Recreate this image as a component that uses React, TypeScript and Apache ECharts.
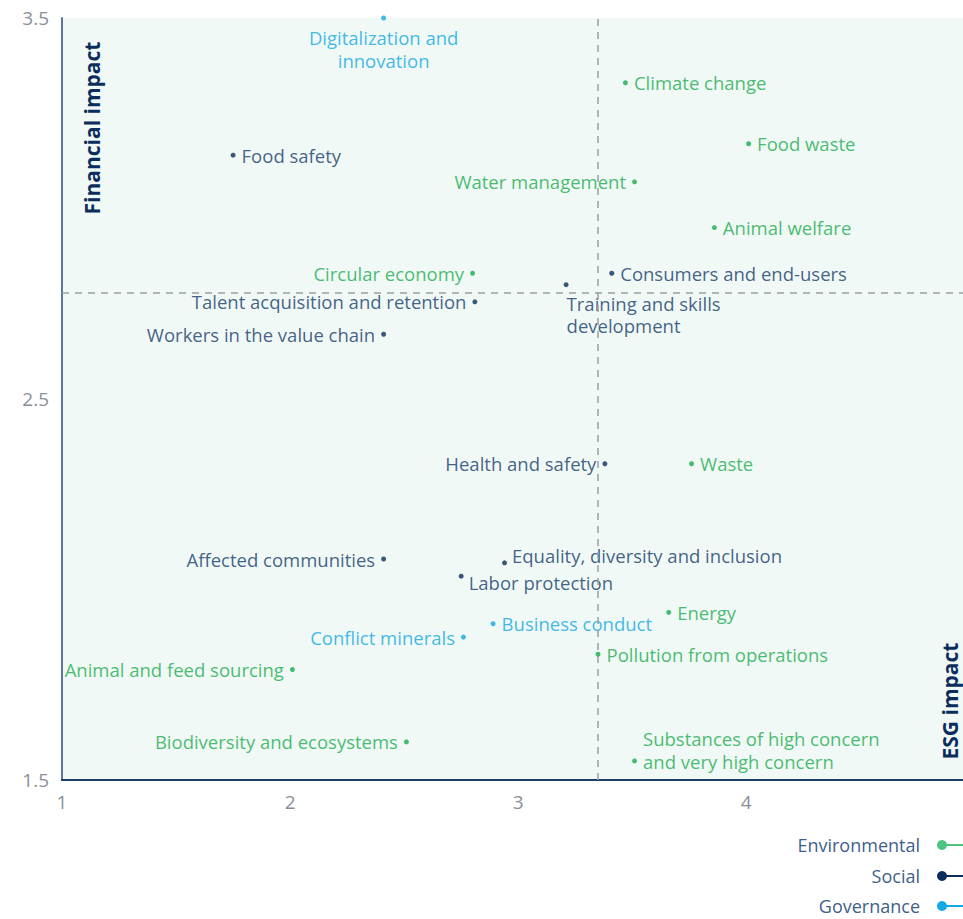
import React, { useEffect, useRef } from "react";
import * as echarts from "echarts";

const categories = ["Environmental", "Social", "Governance"];

const envNames = [
  "Climate change",
  "Food waste",
  "Water management",
  "Animal welfare",
  "Circular economy",
  "Waste",
  "Energy",
  "Pollution from operations",
  "Animal and feed sourcing",
  "Biodiversity and ecosystems",
  "Substances of high concern\nand very high concern",
];
const envX = [3.47, 4.01, 3.51, 3.86, 2.8, 3.76, 3.66, 3.35, 2.01, 2.51, 3.51];
const envY = [3.33, 3.17, 3.07, 2.95, 2.83, 2.33, 1.94, 1.83, 1.79, 1.6, 1.55];

const socNames = [
  "Food safety",
  "Consumers and end-users",
  "Training and skills\ndevelopment",
  "Talent acquisition and retention",
  "Workers in the value chain",
  "Health and safety",
  "Affected communities",
  "Equality, diversity and inclusion",
  "Labor protection",
];
const socX = [1.75, 3.41, 3.21, 2.81, 2.41, 3.38, 2.41, 2.94, 2.75];
const socY = [3.14, 2.83, 2.8, 2.755, 2.67, 2.33, 2.08, 2.07, 2.035];

const govNames = ["Digitalization and\ninnovation", "Business conduct", "Conflict minerals"];
const govX = [2.41, 2.89, 2.76];
const govY = [3.5, 1.91, 1.875];

const xThreshold = 3.35;
const yThreshold = 2.78;

const xTicks = [1, 2, 3, 4];
const yTickLabels = ["1.5", "2.5", "3.5"];

const GREEN = "#1aab4f";
const NAVY = "#133a6b";
const NAVY_DOT = "#0b2d5c";
const CYAN = "#10a8e3";
const FONT = "'Open Sans', 'Noto Sans', sans-serif";
const LABEL_SIZE = 18.5;
const LINE_H = 22.5;

const leftLabels = new Set([
  "Water management",
  "Circular economy",
  "Animal and feed sourcing",
  "Biodiversity and ecosystems",
  "Talent acquisition and retention",
  "Workers in the value chain",
  "Health and safety",
  "Affected communities",
  "Conflict minerals",
]);

function labelFor(name: string): any {
  if (name.startsWith("Digitalization")) {
    return { position: "bottom", distance: 6, align: "center", lineHeight: LINE_H };
  }
  if (name.startsWith("Training")) {
    return { position: [3, 10], align: "left", verticalAlign: "top", lineHeight: LINE_H };
  }
  if (name.startsWith("Substances")) {
    return { position: "right", distance: 6, offset: [0, -11], lineHeight: LINE_H };
  }
  if (name.startsWith("Equality")) {
    return { position: "right", distance: 5, offset: [0, -7] };
  }
  if (name.startsWith("Labor")) {
    return { position: "right", distance: 5, offset: [0, 6] };
  }
  if (leftLabels.has(name)) return { position: "left", distance: 6 };
  return { position: "right", distance: 6 };
}

function buildData(names: string[], xs: number[], ys: number[]) {
  return names.map((n, i) => ({ name: n, value: [xs[i], ys[i]], label: labelFor(n) }));
}

export default function App() {
  const ref = useRef<HTMLDivElement>(null);
  useEffect(() => {
    if (!ref.current) return;
    const chart = echarts.init(ref.current, null, { renderer: "svg" });
    const seriesDefs = [
      { name: categories[0], color: GREEN, text: GREEN, data: buildData(envNames, envX, envY) },
      { name: categories[1], color: NAVY_DOT, text: NAVY, data: buildData(socNames, socX, socY) },
      { name: categories[2], color: CYAN, text: CYAN, data: buildData(govNames, govX, govY) },
    ];
    const legendColors = ["#4cc47f", "#0b2d5c", "#14a9e6"];
    const legendY = [845, 876, 906];
    const graphics: any[] = [];
    categories.forEach((c, i) => {
      graphics.push({
        type: "text",
        x: 920,
        y: legendY[i],
        style: { text: c, fill: "#3f5f8a", font: `18px ${FONT}`, align: "right", verticalAlign: "middle" },
      });
      graphics.push({
        type: "line",
        shape: { x1: 942, y1: legendY[i], x2: 963, y2: legendY[i] },
        style: { stroke: legendColors[i], lineWidth: 2 },
      });
      graphics.push({
        type: "circle",
        shape: { cx: 942, cy: legendY[i], r: 5 },
        style: { fill: legendColors[i] },
      });
    });
    graphics.push({
      type: "text",
      x: 92,
      y: 128,
      rotation: Math.PI / 2,
      style: { text: "Financial impact", fill: "#0b2d5c", font: `bold 21px ${FONT}`, align: "center", verticalAlign: "middle" },
    });
    graphics.push({
      type: "text",
      x: 950,
      y: 701,
      rotation: Math.PI / 2,
      style: { text: "ESG impact", fill: "#0b2d5c", font: `bold 21px ${FONT}`, align: "center", verticalAlign: "middle" },
    });

    chart.setOption({
      animation: false,
      grid: {
        left: 62,
        top: 18,
        right: 0,
        bottom: 139,
        show: true,
        backgroundColor: "#f0f9f5",
        borderWidth: 0,
      },
      xAxis: {
        type: "value",
        min: 1,
        max: 4.95,
        interval: 1,
        axisLine: { show: true, lineStyle: { color: "#1d3c66", width: 2 } },
        axisTick: { show: false },
        splitLine: { show: false },
        axisLabel: {
          color: "#8a9098",
          fontSize: 19,
          fontFamily: FONT,
          margin: 12,
          showMaxLabel: false,
          formatter: (v: number) => (xTicks.includes(v) ? String(v) : ""),
        },
      },
      yAxis: {
        type: "value",
        min: 1.5,
        max: 3.5,
        interval: 0.5,
        axisLine: { show: true, lineStyle: { color: "#5a76a0", width: 2 } },
        axisTick: { show: false },
        splitLine: { show: false },
        axisLabel: {
          color: "#8a9098",
          fontSize: 19,
          fontFamily: FONT,
          margin: 13,
          formatter: (v: number) => {
            const s = v.toFixed(1);
            return yTickLabels.includes(s) ? s : "";
          },
        },
      },
      graphic: graphics,
      series: [
        ...seriesDefs.map((s) => ({
          name: s.name,
          type: "scatter",
          symbol: "circle",
          symbolSize: 5,
          clip: false,
          itemStyle: { color: s.color },
          label: {
            show: true,
            formatter: "{b}",
            color: s.text,
            fontSize: LABEL_SIZE,
            fontFamily: FONT,
          },
          emphasis: { disabled: true },
          data: s.data,
        })),
        {
          type: "scatter",
          data: [],
          silent: true,
          markLine: {
            silent: true,
            symbol: "none",
            label: { show: false },
            lineStyle: { color: "#9a9fa6", type: [7, 6], width: 1.5 },
            data: [{ xAxis: xThreshold }, { yAxis: yThreshold }],
          },
        },
      ],
    });
    return () => chart.dispose();
  }, []);
  return <div ref={ref} style={{ position: "absolute", left: 0, top: 0, width: 963, height: 919 }} />;
}
